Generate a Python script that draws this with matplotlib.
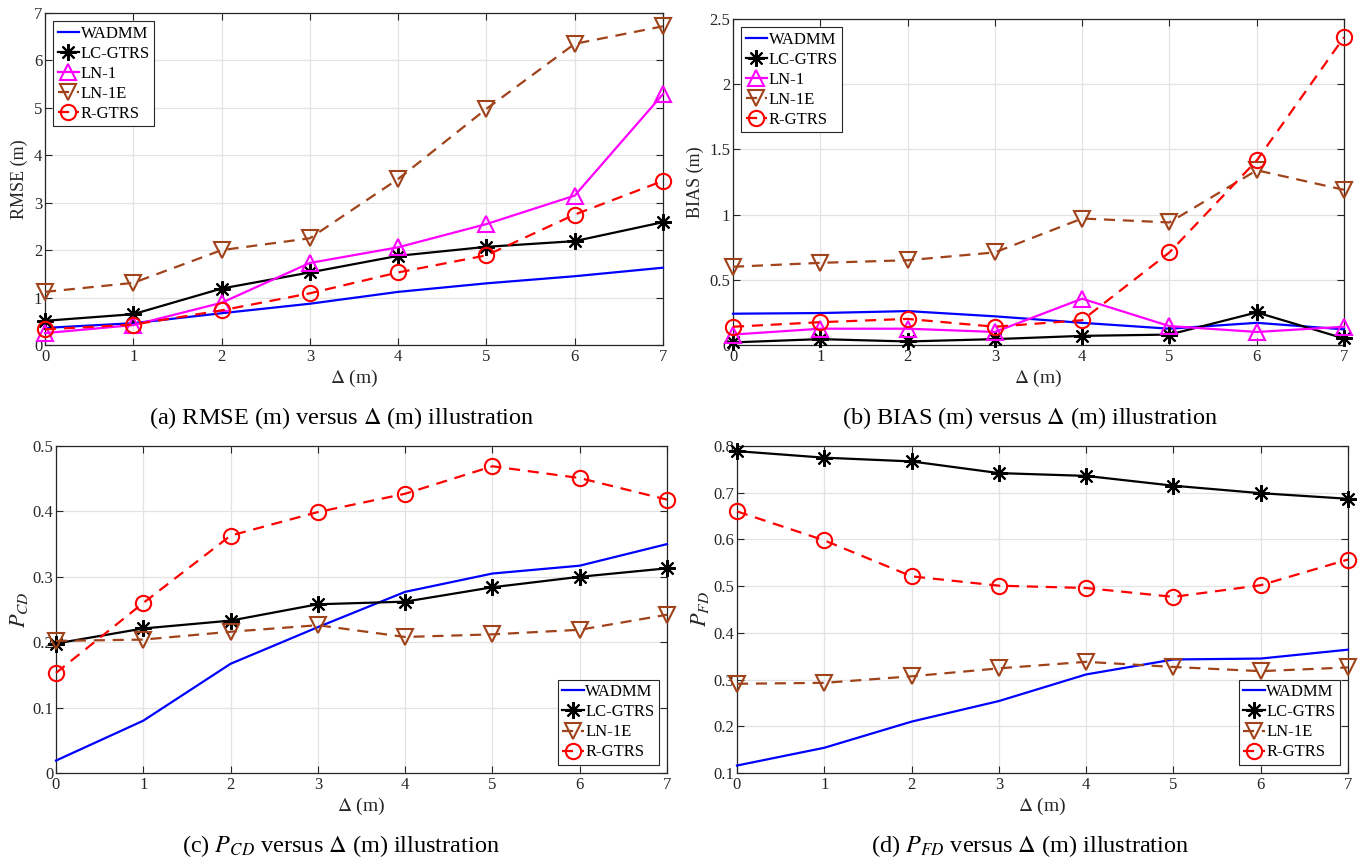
import numpy as np
import matplotlib
matplotlib.use("Agg")
import matplotlib.pyplot as plt

plt.rcParams['font.family'] = ['Liberation Serif', 'DejaVu Serif']
plt.rcParams['mathtext.fontset'] = 'stix'

delta = [0, 1, 2, 3, 4, 5, 6, 7]

rmse_wadmm = [0.36, 0.46, 0.67, 0.87, 1.12, 1.30, 1.45, 1.63]
rmse_lcgtrs = [0.51, 0.65, 1.19, 1.53, 1.88, 2.07, 2.19, 2.59]
rmse_ln1 = [0.25, 0.42, 0.89, 1.73, 2.06, 2.55, 3.15, 5.29]
rmse_ln1e = [1.12, 1.31, 2.00, 2.25, 3.50, 4.98, 6.35, 6.72]
rmse_rgtrs = [0.33, 0.43, 0.73, 1.09, 1.53, 1.89, 2.75, 3.46]

bias_wadmm = [0.24, 0.245, 0.26, 0.22, 0.17, 0.125, 0.17, 0.12]
bias_lcgtrs = [0.02, 0.045, 0.027, 0.045, 0.07, 0.08, 0.25, 0.05]
bias_ln1 = [0.08, 0.125, 0.125, 0.10, 0.355, 0.145, 0.10, 0.14]
bias_ln1e = [0.60, 0.63, 0.65, 0.71, 0.97, 0.94, 1.34, 1.19]
bias_rgtrs = [0.14, 0.175, 0.20, 0.14, 0.19, 0.71, 1.415, 2.36]

pcd_wadmm = [0.019, 0.080, 0.167, 0.223, 0.277, 0.305, 0.317, 0.350]
pcd_lcgtrs = [0.198, 0.221, 0.233, 0.258, 0.262, 0.284, 0.300, 0.313]
pcd_ln1e = [0.202, 0.204, 0.216, 0.226, 0.208, 0.212, 0.219, 0.242]
pcd_rgtrs = [0.153, 0.260, 0.363, 0.399, 0.427, 0.469, 0.451, 0.418]

pfd_wadmm = [0.116, 0.154, 0.210, 0.254, 0.311, 0.343, 0.345, 0.364]
pfd_lcgtrs = [0.789, 0.775, 0.767, 0.742, 0.736, 0.715, 0.699, 0.687]
pfd_ln1e = [0.291, 0.293, 0.307, 0.324, 0.338, 0.327, 0.318, 0.326]
pfd_rgtrs = [0.660, 0.598, 0.521, 0.501, 0.496, 0.477, 0.502, 0.557]

captions = [r"(a) RMSE (m) versus $\Delta$ (m) illustration",
            r"(b) BIAS (m) versus $\Delta$ (m) illustration",
            r"(c) $P_{CD}$ versus $\Delta$ (m) illustration",
            r"(d) $P_{FD}$ versus $\Delta$ (m) illustration"]

BROWN = '#a0421a'
ASTER = (8, 2, 0)
styles = {
    'WADMM': dict(color='#0000ff', ls='-', marker=None),
    'LC-GTRS': dict(color='black', ls='-', marker=ASTER),
    'LN-1': dict(color='#ff00ff', ls='-', marker='^'),
    'LN-1E': dict(color=BROWN, ls='--', marker='v'),
    'R-GTRS': dict(color='#ff0000', ls='--', marker='o'),
}

W, H = 1359, 860
fig = plt.figure(figsize=(W / 100, H / 100), dpi=100)

def ax_at(l, t, r, b):
    return fig.add_axes([l / W, 1 - b / H, (r - l) / W, (b - t) / H])

axes = [ax_at(45, 13, 663, 345), ax_at(733, 19, 1344, 345),
        ax_at(56, 446, 667, 773), ax_at(737, 446, 1348, 773)]

data = [
    [('WADMM', rmse_wadmm), ('LC-GTRS', rmse_lcgtrs), ('LN-1', rmse_ln1), ('LN-1E', rmse_ln1e), ('R-GTRS', rmse_rgtrs)],
    [('WADMM', bias_wadmm), ('LC-GTRS', bias_lcgtrs), ('LN-1', bias_ln1), ('LN-1E', bias_ln1e), ('R-GTRS', bias_rgtrs)],
    [('WADMM', pcd_wadmm), ('LC-GTRS', pcd_lcgtrs), ('LN-1E', pcd_ln1e), ('R-GTRS', pcd_rgtrs)],
    [('WADMM', pfd_wadmm), ('LC-GTRS', pfd_lcgtrs), ('LN-1E', pfd_ln1e), ('R-GTRS', pfd_rgtrs)],
]
ylabels = ['RMSE (m)', 'BIAS (m)', r'$P_{CD}$', r'$P_{FD}$']
ylsizes = [13, 13, 16, 16]
ylims = [(0, 7), (0, 2.5), (0, 0.5), (0.1, 0.8)]
yticks = [np.arange(0, 7.01, 1), np.arange(0, 2.51, 0.5), np.arange(0, 0.51, 0.1), np.arange(0.1, 0.81, 0.1)]
ytl = [[str(int(v)) for v in yticks[0]], ['0', '0.5', '1', '1.5', '2', '2.5'],
       ['0', '0.1', '0.2', '0.3', '0.4', '0.5'], ['0.1', '0.2', '0.3', '0.4', '0.5', '0.6', '0.7', '0.8']]
leg_loc = ['upper left', 'upper left', 'lower right', 'lower right']

for i, ax in enumerate(axes):
    for name, vals in data[i]:
        st = styles[name]
        ms = 12 if st['marker'] == ASTER else 11
        ax.plot(delta, vals, color=st['color'], ls=st['ls'], lw=1.6,
                marker=st['marker'], ms=ms, mfc='none', mec=st['color'], mew=1.5,
                label=name, dashes=(5, 3.5) if st['ls'] == '--' else (None, None), clip_on=False, zorder=3)
    ax.set_xlim(0, 7)
    ax.set_ylim(*ylims[i])
    ax.set_xticks(delta)
    ax.set_yticks(yticks[i])
    ax.set_yticklabels(ytl[i])
    ax.grid(True, color='#e3e3e3', lw=0.9)
    ax.set_axisbelow(True)
    ax.tick_params(direction='in', top=True, right=True, length=5, width=0.8,
                   labelsize=12, colors='#262626', pad=3)
    ax.tick_params(axis='y', pad=2)
    for s in ax.spines.values():
        s.set_color('#262626')
        s.set_linewidth(0.9)
    ax.set_xlabel(r'$\Delta$ (m)', fontsize=14, color='#262626', labelpad=2)
    ax.set_ylabel(ylabels[i], fontsize=ylsizes[i], color='#262626', labelpad=4 if i < 2 else 2)
    leg = ax.legend(loc=leg_loc[i], fontsize=12, handlelength=1.3, handletextpad=0.1,
                    borderpad=0.25, labelspacing=0.25, borderaxespad=0.5, fancybox=False,
                    framealpha=1, edgecolor='#262626')
    leg.get_frame().set_linewidth(0.8)

cap_pos = [(342, 418), (1030, 418), (341, 846), (1030, 846)]
for (cx, cy), txt in zip(cap_pos, captions):
    fig.text(cx / W, 1 - cy / H, txt, ha='center', va='center', fontsize=17.5)

fig.savefig('out.png', dpi=100)
